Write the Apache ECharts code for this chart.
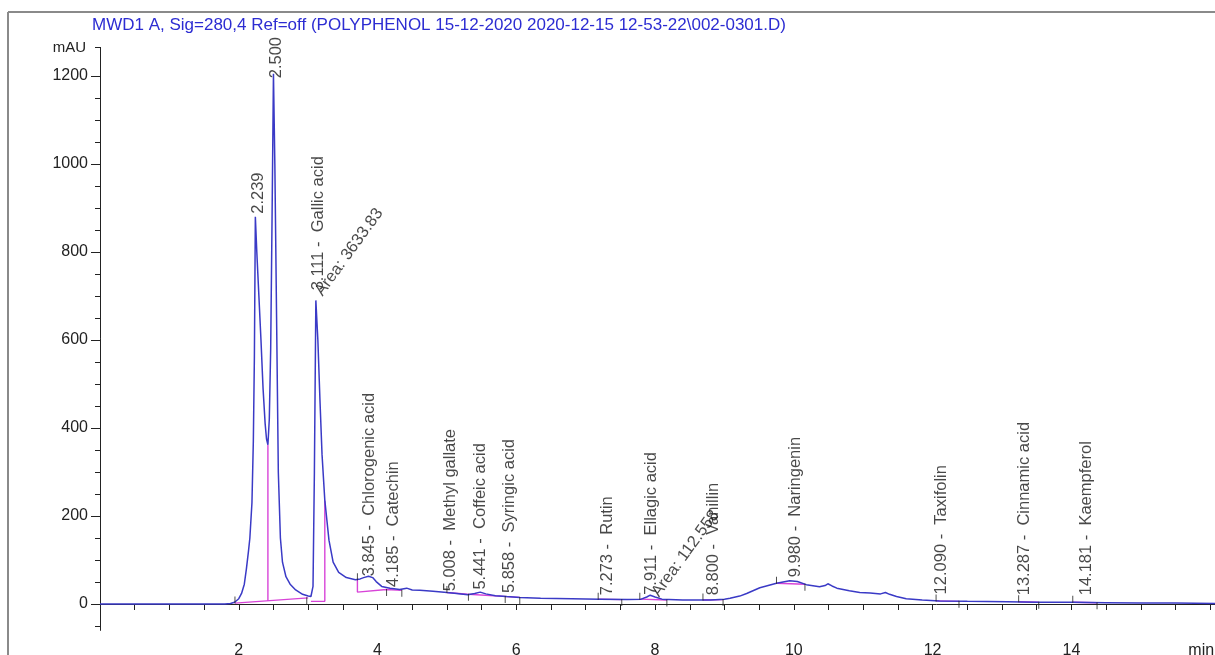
<!DOCTYPE html>
<html>
<head>
<meta charset="utf-8">
<script src="https://cdn.jsdelivr.net/npm/echarts@6/dist/echarts.min.js"></script>
<style>
  html, body { margin: 0; padding: 0; background: #fff; }
  #chart { width: 1215px; height: 655px; }
</style>
</head>
<body>
<div id="chart"></div>
<script>
// MWD1 A signal at 280 nm: retention time (min) and absorbance (mAU)
const traceTime = [
  0.00, 1.00, 1.80, 1.88, 1.94, 2.00, 2.04, 2.08, 2.11, 2.14, 2.16, 2.19, 2.21, 2.225, 2.239,
  2.26, 2.29, 2.32, 2.35, 2.38, 2.40, 2.42, 2.44, 2.46, 2.48, 2.50, 2.52, 2.545, 2.57, 2.60,
  2.63, 2.68, 2.74, 2.82, 2.92, 3.00, 3.04, 3.07, 3.09, 3.111, 3.14, 3.17, 3.20, 3.24, 3.30,
  3.36, 3.44, 3.55, 3.68, 3.75, 3.80, 3.87, 3.93, 3.98, 4.06, 4.18, 4.32, 4.42, 4.50, 4.61,
  4.80, 5.00, 5.14, 5.30, 5.40, 5.48, 5.56, 5.70, 5.86, 6.05, 6.35, 6.80, 7.20, 7.60, 7.80,
  7.88, 7.93, 8.00, 8.10, 8.40, 8.80, 9.00, 9.08, 9.22, 9.32, 9.51, 9.75, 9.94, 10.05, 10.18,
  10.37, 10.45, 10.49, 10.55, 10.62, 10.80, 10.95, 11.10, 11.25, 11.32, 11.38, 11.48, 11.62, 11.85, 12.10,
  12.50, 13.07, 13.50, 14.02, 14.50, 14.99, 15.50, 16.07
];
const traceSignal = [
  0, 0, 0, 1, 4, 12, 24, 45, 80, 120, 150, 230, 370, 560, 880,
  800, 700, 600, 490, 410, 375, 362, 420, 580, 880, 1205, 1000, 650, 300, 150,
  95, 62, 45, 32, 22, 18, 17, 40, 300, 690, 600, 464, 340, 236, 145,
  95, 72, 60, 55, 57, 60, 63, 60, 51, 40, 36, 33, 36, 32, 31,
  29, 26, 24, 21, 24, 27, 23, 19, 17, 15, 13, 12, 11, 10, 11,
  16, 20, 16, 11, 9, 9, 11, 13, 18, 24, 37, 47, 53, 51, 44,
  39, 42, 46, 41, 36, 30, 26, 25, 23, 26, 22, 17, 12, 9, 7,
  6, 5, 4, 4, 3, 2, 2, 1
];

// Integration baselines and drop lines, [min, mAU]
const baselineSegments = [
  [[1.945, 2], [3.00, 14]],
  [[2.42, 362], [2.42, 7]],
  [[3.04, 6], [3.24, 6], [3.24, 236]],
  [[3.71, 55], [3.71, 27], [4.13, 33], [4.35, 31]],
  [[5.00, 26], [5.30, 22]],
  [[5.31, 22], [6.05, 15]],
  [[7.18, 11], [7.52, 10]],
  [[7.78, 11], [8.17, 9]],
  [[8.69, 9], [8.98, 10]],
  [[9.75, 47], [10.16, 45]],
  [[12.05, 7], [12.38, 6]],
  [[13.24, 5], [13.53, 4]],
  [[14.02, 4], [14.37, 3]]
];

// Peak start / end event marks
const eventStartTimes  = [1.945, 3.71, 5.00, 7.18, 7.78, 8.69, 9.75, 12.05, 13.24, 14.02];
const eventStartLevels = [2, 55, 26, 11, 11, 9, 47, 7, 5, 4];
const eventEndTimes    = [2.98, 4.13, 4.35, 5.31, 5.84, 6.05, 7.52, 8.17, 8.98, 10.16, 12.38, 13.53, 14.37];
const eventEndLevels   = [14, 33, 31, 22, 17, 15, 10, 9, 10, 45, 6, 4, 3];

// Peak annotations: retention time, compound, apex level where the label starts
const peakTimes = ['2.239', '2.500', '3.111', '3.845', '4.185', '5.008', '5.441', '5.858', '7.273', '7.911', '8.800', '9.980', '12.090', '13.287', '14.181'];
const peakNames = ['', '', 'Gallic acid', 'Chlorogenic acid', 'Catechin', 'Methyl gallate', 'Coffeic acid', 'Syringic acid', 'Rutin', 'Ellagic acid', 'Vanillin', 'Naringenin', 'Taxifolin', 'Cinnamic acid', 'Kaempferol'];
const peakLevels = [880, 1188, 706, 56, 32, 22, 26, 18, 13, 14, 13, 54, 15, 13, 13];

// Area annotations
const areaTimes  = [3.14, 7.99];
const areaLevels = [700, 16];
const areaValues = ['3633.83', '112.558'];

// Axis ticks and labels
const xLabelValues = [2, 4, 6, 8, 10, 12, 14, 16];
const xLabelTexts  = ['2', '4', '6', '8', '10', '12', '14', 'min    '];
const yLabelValues = [0, 200, 400, 600, 800, 1000, 1200];
const yMinorTicks  = [-50, 0, 50, 100, 150, 200, 250, 300, 350, 400, 450, 500, 550, 600, 650, 700, 750,
                      800, 850, 900, 950, 1000, 1050, 1100, 1150, 1200, 1265];

const FONT = '"Liberation Sans", Arial, sans-serif';
const TRACE = '#3a3ac6';
const BASE = '#d844d8';
const Y_MIN = -60, Y_MAX = 1265;

const traceData = traceTime.map((t, i) => [t, traceSignal[i]]);

const baselineSeries = baselineSegments.map(seg => ({
  type: 'line',
  data: seg,
  showSymbol: false,
  silent: true,
  lineStyle: { color: BASE, width: 1.4 },
  z: 2
}));

const peakLabelData = peakTimes.map((t, i) => [
  parseFloat(t), peakLevels[i],
  peakNames[i] ? t + ' -  ' + peakNames[i] : t
]);

const areaLabelData = areaTimes.map((t, i) => [t, areaLevels[i], 'Area: ' + areaValues[i]]);

const option = {
  animation: false,
  backgroundColor: '#fff',
  title: {
    text: 'MWD1 A, Sig=280,4 Ref=off (POLYPHENOL 15-12-2020 2020-12-15 12-53-22\\002-0301.D)',
    left: 87, top: 12,
    textStyle: { color: '#2c2cd2', fontSize: 17, fontWeight: 'normal', fontFamily: FONT }
  },
  graphic: [
    { type: 'line', shape: { x1: 8, y1: 12, x2: 1215, y2: 12 }, style: { stroke: '#8a8a8a', lineWidth: 2 } },
    { type: 'line', shape: { x1: 8, y1: 12, x2: 8, y2: 655 }, style: { stroke: '#8a8a8a', lineWidth: 2 } }
  ],
  grid: {
    left: 100, right: 0, top: 604 - Y_MAX * 0.44, height: (Y_MAX - Y_MIN) * 0.44,
    outerBoundsMode: 'none', containLabel: false
  },
  xAxis: {
    type: 'value', min: 0, max: 16.07, interval: 2,
    axisLine: { lineStyle: { color: '#222', width: 1 } },
    axisTick: { length: 6, lineStyle: { color: '#222' } },
    minorTick: { show: true, splitNumber: 4, length: 6, lineStyle: { color: '#222' } },
    splitLine: { show: false },
    axisLabel: {
      color: '#222', fontSize: 16, fontFamily: FONT, margin: 12,
      formatter: v => { const k = xLabelValues.indexOf(v); return k < 0 ? '' : xLabelTexts[k]; }
    }
  },
  yAxis: [
    {
      type: 'value', min: Y_MIN, max: Y_MAX,
      name: 'mAU', nameLocation: 'end', nameGap: 0,
      nameTextStyle: { color: '#222', fontSize: 15, fontFamily: FONT, align: 'right', verticalAlign: 'middle', padding: [0, 14, 0, 0] },
      axisLine: { show: true, lineStyle: { color: '#222', width: 1 } },
      axisTick: { show: true, length: 5, customValues: yMinorTicks, lineStyle: { color: '#222' } },
      axisLabel: { show: false },
      splitLine: { show: false }
    },
    {
      type: 'value', min: Y_MIN, max: Y_MAX, position: 'left',
      axisLine: { show: false },
      axisTick: { show: true, length: 9, customValues: yLabelValues, lineStyle: { color: '#222' } },
      axisLabel: {
        show: true, customValues: yLabelValues, color: '#222', fontSize: 16, fontFamily: FONT, margin: 12,
        formatter: v => String(v)
      },
      splitLine: { show: false }
    }
  ],
  series: [
    ...baselineSeries,
    {
      type: 'line', name: 'MWD1 A', data: traceData,
      showSymbol: false, silent: true,
      lineStyle: { color: TRACE, width: 1.5 }, z: 3
    },
    {
      type: 'scatter', data: eventStartTimes.map((t, i) => [t, eventStartLevels[i]]),
      symbol: 'rect', symbolSize: [1, 7], symbolOffset: [0, -3],
      itemStyle: { color: '#222' }, silent: true, z: 4
    },
    {
      type: 'scatter', data: eventEndTimes.map((t, i) => [t, eventEndLevels[i]]),
      symbol: 'rect', symbolSize: [1, 7], symbolOffset: [0, 3],
      itemStyle: { color: '#222' }, silent: true, z: 4
    },
    {
      type: 'scatter', data: peakLabelData, symbolSize: 1,
      itemStyle: { color: 'transparent' }, silent: true, z: 5,
      label: {
        show: true, position: [3.5, -2.5], rotate: 90, align: 'left', verticalAlign: 'middle',
        color: '#1a1a1a', fontSize: 16.5, fontFamily: FONT,
        formatter: p => p.value[2]
      },
      labelLayout: { hideOverlap: false }
    },
    {
      type: 'scatter', data: areaLabelData, symbolSize: 1,
      itemStyle: { color: 'transparent' }, silent: true, z: 5,
      label: {
        show: true, position: [1.5, -1.5], rotate: 54, align: 'left', verticalAlign: 'middle',
        color: '#1a1a1a', fontSize: 16.5, fontFamily: FONT,
        formatter: p => p.value[2]
      }
    }
  ]
};

const chart = echarts.init(document.getElementById('chart'), null, { renderer: 'canvas' });
chart.setOption(option);
</script>
</body>
</html>
